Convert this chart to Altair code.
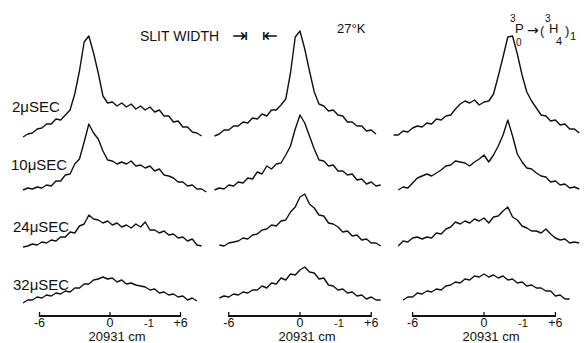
import altair as alt
import pandas as pd

# ---------------- data ----------------
delays = ["2μSEC", "10μSEC", "24μSEC", "32μSEC"]
row_offsets = [206, 153, 96, 41]          # vertical stacking offsets (arb. units)

tick_values = [-6, 0, 6]
tick_labels = ["-6", "0", "+6"]
unit_label = "20931 cm"
unit_exp = "-1"

# panel 1 (left)
p1_x = [-7.4, -7.0, -6.6, -6.2, -5.8, -5.4, -5.0, -4.6, -4.2, -3.8, -3.4, -3.0, -2.6, -2.2,
        -1.8, -1.4, -1.0, -0.6, -0.2, 0.2, 0.6, 1.0, 1.4, 1.8, 2.2, 2.6, 3.0, 3.4, 3.8, 4.2,
        4.6, 5.0, 5.4, 5.8, 6.2, 6.6, 7.0, 7.4, 7.8, 8.2]
p1_2 = [0, 3, 4, 8, 9, 13, 13, 18, 17, 22, 27, 43, 66, 95, 101, 84, 64, 41, 34, 35, 31, 34, 30,
        33, 28, 31, 27, 30, 25, 27, 21, 21, 15, 16, 10, 10, 5, 4, 1, None]
p1_10 = [0, 2, 1, 3, 2, 5, 4, 9, 9, 15, 16, 26, 31, 48, 66, 57, 51, 39, 30, 29, 26, 28, 26, 29,
         24, 25, 22, 24, 19, 21, 15, 14, 12, 8, 8, 4, 5, 1, 1, -2]
p1_24 = [0, 1, 3, 2, 5, 4, 7, 6, 10, 10, 15, 14, 21, 23, 32, 28, 27, 24, 26, 22, 24, 20, 22, 19,
         23, 20, 25, 17, 17, 14, 16, 12, 13, 9, 10, 6, 8, 2, 1, None]
p1_32 = [-1, 2, 2, 5, 4, 7, 6, 9, 8, 11, 10, 14, 14, 18, 18, 22, 23, 25, 23, 24, 20, 22, 18, 19,
         17, 16, 15, 12, 13, 9, 10, 7, 8, 5, 6, 2, 4, 1, None, None]

# panel 2 (middle)
p2_x = [-7.2, -6.8, -6.4, -6.0, -5.6, -5.2, -4.8, -4.4, -4.0, -3.6, -3.2, -2.8, -2.4, -2.0,
        -1.6, -1.2, -0.8, -0.4, 0.0, 0.4, 0.8, 1.2, 1.6, 2.0, 2.4, 2.8, 3.2, 3.6, 4.0, 4.4,
        4.8, 5.2, 5.6, 6.0, 6.4, 6.8, 7.2]
p2_2 = [1, 3, 7, 7, 11, 11, 15, 14, 19, 18, 23, 21, 27, 27, 32, 38, 64, 100, 106, 88, 66, 45,
        33, 31, 26, 27, 22, 21, 15, 15, 11, 11, 6, 7, 3, None, None]
p2_10 = [0, 2, 1, 5, 4, 8, 7, 12, 11, 18, 16, 24, 21, 26, 27, 35, 44, 61, 75, 67, 54, 41, 30,
         29, 24, 25, 19, 19, 15, 16, 10, 11, 6, 8, 4, 5, None]
p2_24 = [None, 2, 1, 4, 5, 6, 9, 8, 12, 13, 17, 18, 22, 21, 26, 27, 35, 40, 50, 53, 43, 39, 32,
         31, 24, 23, 20, 15, 16, 11, 12, 7, 8, 4, 4, 1, None]
p2_32 = [None, 4, 6, 5, 8, 7, 10, 9, 12, 12, 16, 14, 19, 18, 24, 22, 28, 27, 32, 35, 30, 29, 23,
         24, 17, 16, 12, 13, 9, 10, 6, 7, 3, 5, 2, 2, None]

# panel 3 (right)
p3_x = [-7.6, -7.2, -6.8, -6.4, -6.0, -5.6, -5.2, -4.8, -4.4, -4.0, -3.6, -3.2, -2.8, -2.4,
        -2.0, -1.6, -1.2, -0.8, -0.4, 0.0, 0.4, 0.8, 1.2, 1.6, 2.0, 2.4, 2.8, 3.2, 3.6, 4.0,
        4.4, 4.8, 5.2, 5.6, 6.0, 6.4, 6.8, 7.2, 7.6, 8.0]
p3_2 = [2, 2, 6, 5, 9, 11, 10, 14, 13, 18, 17, 21, 22, 28, 33, 36, 34, 37, 32, 35, 36, 43, 61,
        80, 100, 101, 83, 62, 45, 36, 29, 22, 21, 16, 17, 12, 13, 8, 8, 4]
p3_10 = [None, 0, 3, 2, 7, 12, 14, 16, 14, 17, 20, 24, 25, 29, 28, 27, 24, 28, 31, 35, 28, 35,
         44, 55, 70, 54, 36, 28, 22, 21, 17, 14, 13, 8, 9, 5, 6, 2, 3, 1]
p3_24 = [None, 1, 6, 5, 9, 10, 8, 10, 9, 14, 13, 18, 20, 25, 23, 26, 24, 28, 26, 29, 24, 30, 31,
         36, 40, 30, 27, 21, 19, 16, 16, 14, 18, 13, 9, 7, 8, 4, 5, 4]
p3_32 = [None, None, 2, 5, 5, 9, 8, 11, 10, 13, 12, 16, 17, 20, 19, 23, 22, 26, 25, 28, 25, 27,
         24, 26, 22, 23, 19, 20, 16, 17, 14, 14, 11, 11, 6, 7, 3, 3, None, None]

# ---------------- chart ----------------
INK = "#111111"
FONT = "Liberation Sans"
H = 343


def spectra_df(xs, traces):
    rows = []
    for d, off, tr in zip(delays, row_offsets, traces):
        for x, v in zip(xs, tr):
            if v is not None:
                rows.append({"wn": x, "level": off + v, "delay": d})
    return pd.DataFrame(rows)


def txt(text, x, y, size, font=FONT, align="left"):
    return alt.Chart(pd.DataFrame({"t": [text]})).mark_text(
        align=align, baseline="alphabetic", fontSize=size, font=font, color=INK
    ).encode(x=alt.value(x), y=alt.value(y), text="t:N")


def panel(xs, traces, domain, width, extras):
    df = spectra_df(xs, traces)
    xscale = alt.Scale(domain=domain, nice=False, zero=False)
    lines = alt.Chart(df).mark_line(color=INK, strokeWidth=1.4, strokeJoin="round").encode(
        x=alt.X("wn:Q", scale=xscale, axis=None),
        y=alt.Y("level:Q", scale=alt.Scale(domain=[0, H], nice=False, zero=False), axis=None),
        detail="delay:N",
        order="wn:Q",
    )
    tick_df = pd.DataFrame({"wn": tick_values, "lab": tick_labels})
    axis_line = alt.Chart(tick_df).mark_rule(color=INK, strokeWidth=1.3).encode(
        x=alt.datum(tick_values[0]), x2=alt.datum(tick_values[-1]), y=alt.value(316)
    )
    ticks = alt.Chart(tick_df).mark_rule(color=INK, strokeWidth=1.3).encode(
        x="wn:Q", y=alt.value(312), y2=alt.value(317)
    )
    tick_text = alt.Chart(tick_df).mark_text(
        fontSize=12.5, font=FONT, baseline="alphabetic", color=INK
    ).encode(x="wn:Q", y=alt.value(327), text="lab:N")
    unit = alt.Chart(pd.DataFrame({"t": [unit_label]})).mark_text(
        fontSize=13, font=FONT, baseline="alphabetic", dx=7, color=INK
    ).encode(x=alt.datum(0), y=alt.value(341), text="t:N")
    sup = alt.Chart(pd.DataFrame({"t": [unit_exp]})).mark_text(
        fontSize=11, font=FONT, baseline="alphabetic", dx=39, color=INK
    ).encode(x=alt.datum(0), y=alt.value(327), text="t:N")
    return alt.layer(lines, axis_line, ticks, tick_text, unit, sup, *extras).properties(
        width=width, height=H
    )


extras1 = [
    txt(delays[0], 12, 112, 15),
    txt(delays[1], 11, 170, 15),
    txt(delays[2], 13, 232, 15),
    txt(delays[3], 13, 290, 15),
    txt("SLIT WIDTH", 140, 41, 14),
]
extras2 = [
    txt("⇥", 27, 42, 19, font="DejaVu Sans"),
    txt("⇤", 57, 42, 19, font="DejaVu Sans"),
    txt("27°K", 132, 33, 13),
]
extras3 = [
    txt("3", 120, 22, 10),
    txt("P", 125, 33, 13),
    txt("0", 126, 46, 10),
    txt("→", 137, 35, 14, font="DejaVu Sans"),
    txt("(", 150, 35, 13),
    txt("3", 155, 22, 10),
    txt("H", 159, 33, 13),
    txt("4", 166, 45, 11),
    txt(")", 175, 35, 13),
    txt("1", 180, 40, 11),
]

c1 = panel(p1_x, [p1_2, p1_10, p1_24, p1_32], [-9.362, 8.085], 205, extras1)
c2 = panel(p2_x, [p2_2, p2_10, p2_24, p2_32], [-8.003, 7.582], 185, extras2)
c3 = panel(p3_x, [p3_2, p3_10, p3_24, p3_32], [-7.899, 8.571], 196, extras3)

chart = alt.hconcat(c1, c2, c3, spacing=0, bounds="flush", padding=0,
                    background="white").configure_view(stroke=None)

chart.save("out.html", embed_options={"renderer": "svg", "actions": False})
